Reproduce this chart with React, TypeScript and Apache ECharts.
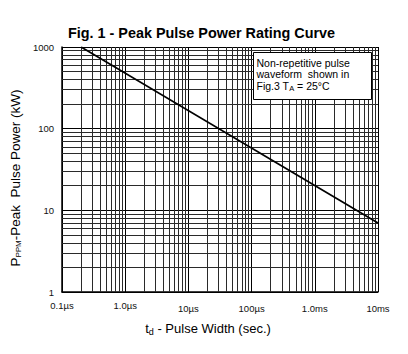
import React, { useEffect, useRef } from "react";
import * as echarts from "echarts";

// Pulse width in microseconds, peak pulse power in kW
const curveWidthUs = [0.2, 10000];
const curvePowerKw = [1000, 7];

const xTickValues = [0.1, 1, 10, 100, 1000, 10000];
const xTickLabels = ["0.1µs", "1.0µs", "10µs", "100µs", "1.0ms", "10ms"];
const yTickValues = [1, 10, 100, 1000];
const yTickLabels = ["1", "10", "100", "1000"];

const titleText = "Fig. 1 - Peak Pulse Power Rating Curve";
const noteLines = ["Non-repetitive pulse", "waveform  shown in"];

const FONT = "Liberation Sans, Arial, sans-serif";

function minorValues(minExp: number, maxExp: number): number[] {
  const out: number[] = [];
  for (let e = minExp; e < maxExp; e++) {
    for (let m = 2; m <= 9; m++) out.push(Number((m * Math.pow(10, e)).toPrecision(6)));
  }
  return out;
}

export default function App() {
  const ref = useRef<HTMLDivElement>(null);
  useEffect(() => {
    if (!ref.current) return;
    const chart = echarts.init(ref.current, null, { renderer: "svg" });
    const xMinor = minorValues(-1, 4);
    const yMinor = minorValues(0, 3);
    const gridLineStyle = { type: "solid", color: "#2a2a2a", width: 1 };
    const labelOf = (vals: number[], labs: string[], rich: boolean) => (v: number) => {
      const e = Math.round(Math.log10(v));
      const i = vals.findIndex((t) => Math.round(Math.log10(t)) === e);
      if (i < 0) return "";
      if (!rich) return labs[i];
      return i < 2 ? `{hi|${labs[i]}}` : `{lo|${labs[i]}}`;
    };
    const labelRich = {
      hi: { fontFamily: FONT, fontSize: 9.5, color: "#111" },
      lo: { fontFamily: FONT, fontSize: 9.5, color: "#111", padding: [3, 0, 0, 0] },
    };
    chart.setOption({
      animation: false,
      backgroundColor: "#fff",
      title: {
        text: titleText,
        left: 63,
        top: 21,
        textStyle: { fontFamily: FONT, fontSize: 14.4, fontWeight: "bold", color: "#000" },
      },
      grid: { left: 62, top: 47, width: 316, height: 245, containLabel: false },
      xAxis: {
        type: "log",
        logBase: 10,
        min: 0.1,
        max: 10000,
        name: "{t|t}{s|d}{t| - Pulse Width (sec.)}",
        nameLocation: "middle",
        nameGap: 29,
        nameTextStyle: {
          padding: [0, 24, 0, 0],
          rich: {
            t: { fontFamily: FONT, fontSize: 13, color: "#000" },
            s: { fontFamily: FONT, fontSize: 9, color: "#000", padding: [6, 0, 0, 0] },
          },
        },
        axisLine: { show: true, onZero: false, lineStyle: { color: "#000", width: 1.5 } },
        axisTick: { show: false },
        splitLine: { show: true, lineStyle: { color: "#000", width: 1 } },
        axisLabel: {
          formatter: labelOf(xTickValues, xTickLabels, true),
          rich: labelRich,
          fontFamily: FONT,
          fontSize: 9.5,
          color: "#111",
          margin: 8,
        },
      },
      yAxis: {
        type: "log",
        logBase: 10,
        min: 1,
        max: 1000,
        name: "{t|P}{s|PPM}{t|-Peak  Pulse Power (kW)}",
        nameLocation: "middle",
        nameGap: 30,
        nameTextStyle: {
          padding: [0, 17, 0, 0],
          rich: {
            t: { fontFamily: FONT, fontSize: 13.5, color: "#000" },
            s: { fontFamily: FONT, fontSize: 8, color: "#000", padding: [6, 0, 0, 0] },
          },
        },
        axisLine: { show: true, onZero: false, lineStyle: { color: "#000", width: 1.5 } },
        axisTick: { show: false },
        splitLine: { show: true, lineStyle: { color: "#000", width: 1 } },
        axisLabel: {
          formatter: labelOf(yTickValues, yTickLabels, false),
          fontFamily: FONT,
          fontSize: 9.5,
          color: "#111",
          margin: 8,
        },
      },
      series: [
        {
          name: "grid",
          type: "line",
          data: [],
          z: 1,
          silent: true,
          markLine: {
            silent: true,
            symbol: ["none", "none"],
            label: { show: false },
            lineStyle: gridLineStyle,
            data: [
              ...xMinor.map((v) => ({ xAxis: v })),
              ...yMinor.map((v) => ({ yAxis: v })),
            ],
          },
        },
        {
          name: "PPPM",
          type: "line",
          z: 5,
          symbol: "none",
          data: curveWidthUs.map((x, i) => [x, curvePowerKw[i]]),
          lineStyle: { color: "#000", width: 1.6 },
        },
      ],
      graphic: [
        {
          type: "group",
          left: 253,
          top: 52,
          z: 100,
          children: [
            {
              type: "rect",
              z: 100,
              shape: { x: 0, y: 0, width: 118, height: 47 },
              style: { fill: "#fff", stroke: "#000", lineWidth: 1 },
            },
            ...noteLines.map((t, i) => ({
              type: "text",
              z: 101,
              x: 3,
              y: 5 + i * 11,
              style: { text: t, font: `10.5px ${FONT}`, fill: "#000" },
            })),
            {
              type: "text",
              z: 101,
              x: 3,
              y: 27,
              style: {
                text: "{a|Fig.3 T}{b|A}{a| = 25°C}",
                rich: {
                  a: { fontFamily: FONT, fontSize: 10.5, fill: "#000" },
                  b: { fontFamily: FONT, fontSize: 7.5, fill: "#000", padding: [5, 0, 0, 0] },
                },
              },
            },
          ],
        },
      ],
    });
    return () => chart.dispose();
  }, []);
  return (
    <div
      ref={ref}
      style={{ position: "fixed", left: 0, top: 0, width: 408, height: 354, background: "#fff" }}
    />
  );
}
